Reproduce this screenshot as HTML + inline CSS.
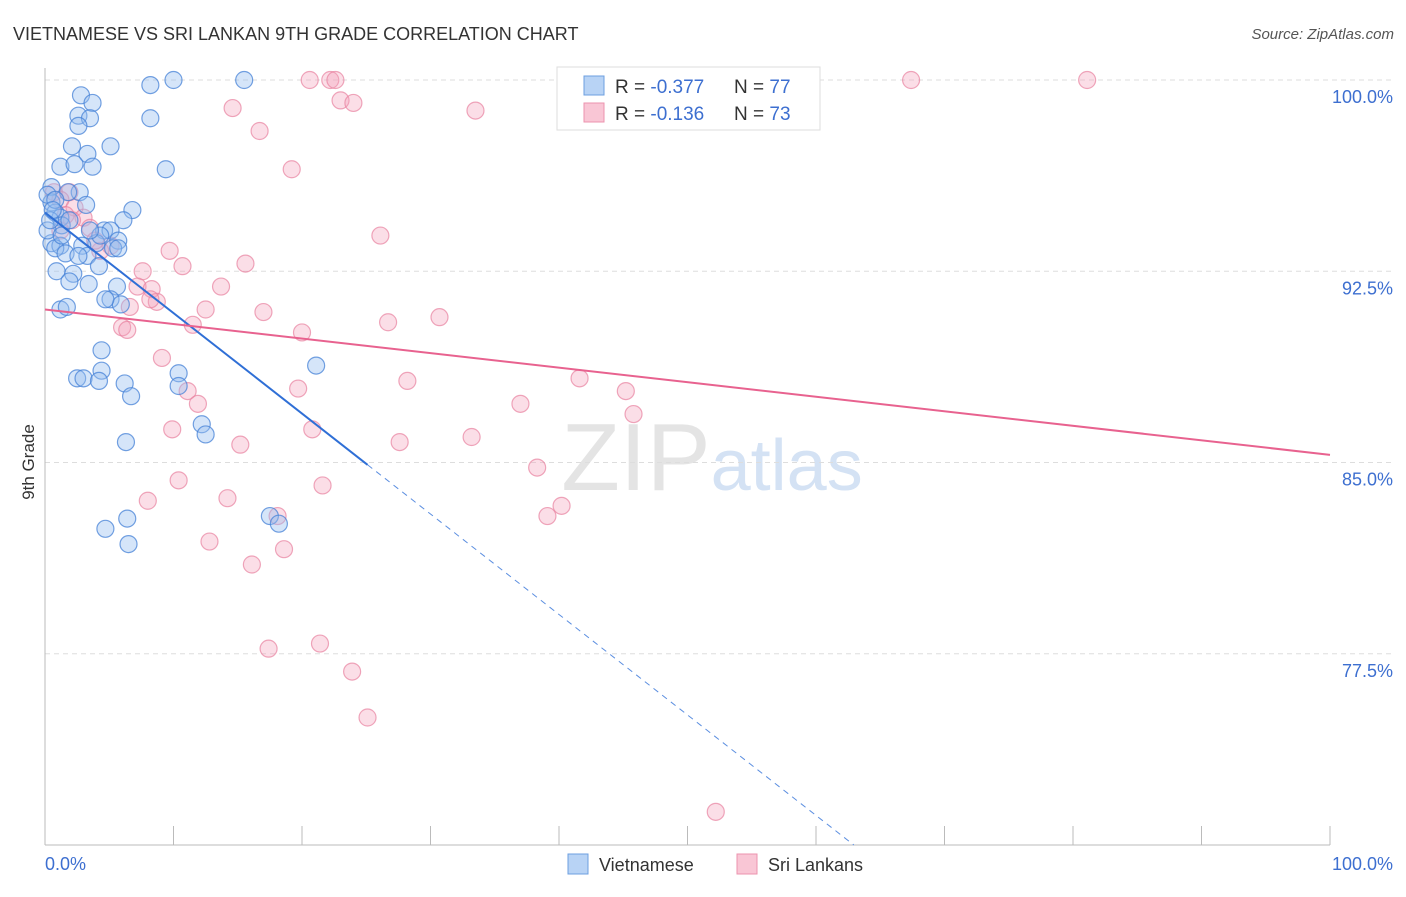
<!DOCTYPE html>
<html><head><meta charset="utf-8"><style>
body{margin:0;background:#fff;font-family:"Liberation Sans",sans-serif;}
svg text{font-family:"Liberation Sans",sans-serif;}
</style></head><body>
<svg id="chart" width="1406" height="892" xmlns="http://www.w3.org/2000/svg">
<text x="13" y="40" font-size="18" fill="#333">VIETNAMESE VS SRI LANKAN 9TH GRADE CORRELATION CHART</text>
<text x="1394" y="39" font-size="15" fill="#555" text-anchor="end" font-style="italic">Source: ZipAtlas.com</text>
<text x="712" y="490" font-size="96" fill="#e4e4e4" text-anchor="middle" font-family="Liberation Serif">ZIP<tspan fill="#d4e2f4" font-family="Liberation Sans" font-size="72">atlas</tspan></text>
<g id="grid"></g>
<g id="axes"></g>
<g id="pts"></g>
<g id="trend"></g>
<text transform="translate(34,462) rotate(-90)" font-size="17" fill="#333" text-anchor="middle">9th Grade</text>
<g>
<rect x="557" y="67" width="263" height="63" fill="#fff" stroke="#ddd"/>
<rect x="584" y="76" width="20" height="19" fill="#b8d3f5" stroke="#6c9fe0"/>
<rect x="584" y="103" width="20" height="19" fill="#f9c6d5" stroke="#ec93ae"/>
<text x="615" y="93" font-size="19" fill="#333">R = <tspan fill="#3d6fd0">-0.377</tspan></text>
<text x="734" y="93" font-size="19" fill="#333">N = <tspan fill="#3d6fd0">77</tspan></text>
<text x="615" y="120" font-size="19" fill="#333">R = <tspan fill="#3d6fd0"> -0.136</tspan></text>
<text x="734" y="120" font-size="19" fill="#333">N = <tspan fill="#3d6fd0">73</tspan></text>
</g>
<g>
<rect x="568" y="854" width="20" height="20" fill="#b8d3f5" stroke="#6c9fe0"/>
<text x="599" y="871" font-size="18" fill="#333">Vietnamese</text>
<rect x="737" y="854" width="20" height="20" fill="#f9c6d5" stroke="#ec93ae"/>
<text x="768" y="871" font-size="18" fill="#333">Sri Lankans</text>
</g>
</svg>
<script>
const yTicks=[100,92.5,85,77.5];
const yTickLabels=["100.0%","92.5%","85.0%","77.5%"];
const xTicks=[0,10,20,30,40,50,60,70,80,90,100];
const viX=[8.2,10,15.5,2.8,3.7,2.6,3.5,8.2,2.6,5.1,2.1,3.3,1.2,2.3,3.7,9.4,0.5,2.7,1.8,3.2,6.8,0.5,0.8,1.2,6.1,1.3,4.6,5.1,0.5,1.2,5.7,4.0,2.9,0.8,1.6,5.3,3.3,4.2,0.9,2.2,1.9,3.4,5.6,5.1,5.9,1.2,1.7,10.4,21.1,4.4,4.4,2.5,3.0,4.2,6.2,6.7,10.4,12.2,12.5,6.3,17.5,18.2,6.4,4.7,6.5,0.2,0.4,0.2,0.8,1.3,1.9,4.3,5.7,4.7,2.6,3.5,0.6];
const viY=[99.8,100,100,99.4,99.1,98.6,98.5,98.5,98.2,97.4,97.4,97.1,96.6,96.7,96.6,96.5,95.8,95.6,95.6,95.1,94.9,95.2,94.8,94.6,94.5,94.3,94.1,94.1,93.6,93.5,93.7,93.6,93.5,93.4,93.2,93.4,93.1,92.7,92.5,92.4,92.1,92.0,91.9,91.4,91.2,91.0,91.1,88.5,88.8,89.4,88.6,88.3,88.3,88.2,88.1,87.6,88.0,86.5,86.1,85.8,82.9,82.6,82.8,82.4,81.8,94.1,94.5,95.5,95.3,93.9,94.5,93.9,93.4,91.4,93.1,94.1,94.9];
const slX=[20.6,22.2,22.6,67.4,81.1,23.0,24.0,14.6,33.5,16.7,19.2,0.7,1.9,1.2,2.3,3.0,1.6,3.5,2.1,26.1,5.1,4.3,9.7,15.6,10.7,7.6,13.7,7.2,8.3,8.7,12.5,6.6,17.0,11.5,6.0,6.4,20.0,26.7,30.7,9.1,41.6,28.2,19.7,11.1,45.2,11.9,37.0,45.8,9.9,20.8,15.2,27.6,33.2,38.3,10.4,21.6,8.0,14.2,40.2,39.1,18.1,12.8,18.6,16.1,21.4,17.4,23.9,25.1,52.2,8.2,3.9,1.2];
const slY=[100,100,100,100,100,99.2,99.1,98.9,98.8,98.0,96.5,95.6,95.6,95.3,95.0,94.6,94.7,94.2,94.5,93.9,93.5,93.3,93.3,92.8,92.7,92.5,91.9,91.9,91.8,91.3,91.0,91.1,90.9,90.4,90.3,90.2,90.1,90.5,90.7,89.1,88.3,88.2,87.9,87.8,87.8,87.3,87.3,86.9,86.3,86.3,85.7,85.8,86.0,84.8,84.3,84.1,83.5,83.6,83.3,82.9,82.9,81.9,81.6,81.0,77.9,77.7,76.8,75.0,71.3,91.4,93.7,94.1];
const viTrend=[94.8,-0.394,25.1];
const slTrend=[91.0,-0.057];
const NS="http://www.w3.org/2000/svg";
const X=v=>45+v*12.85, Y=v=>80+(100-v)*25.5;
function mk(t,a,p){const e=document.createElementNS(NS,t);for(const k in a)e.setAttribute(k,a[k]);p.appendChild(e);return e;}
const grid=document.getElementById('grid'),axes=document.getElementById('axes');
yTicks.forEach((t,i)=>{
 const g=mk('line',{x1:45,x2:1393,y1:Y(t),y2:Y(t),stroke:'#ddd','stroke-dasharray':'5,4'},grid);
 
 
 const l=mk('text',{x:1393,y:Y(t)+23,'font-size':18,fill:'#3d6fd0','text-anchor':'end'},axes);
 l.textContent=yTickLabels[i];
 
 
});
mk('line',{x1:45,x2:45,y1:68,y2:845,stroke:'#bbb'},axes);
mk('line',{x1:45,x2:1330,y1:845,y2:845,stroke:'#bbb'},axes);
xTicks.forEach(t=>{const e=mk('line',{x1:X(t),x2:X(t),y1:826,y2:845,stroke:'#bbb'},axes);
 
 });
const x0=mk('text',{x:45,y:870,'font-size':18,fill:'#3d6fd0'},axes);x0.textContent='0.0%';
const x1=mk('text',{x:1393,y:870,'font-size':18,fill:'#3d6fd0','text-anchor':'end'},axes);x1.textContent='100.0%';
const pts=document.getElementById('pts');
slX.forEach((v,i)=>{const c=mk('circle',{cx:X(v),cy:Y(slY[i]),r:8.5,fill:'rgba(244,160,186,0.35)',stroke:'rgba(232,130,160,0.7)','stroke-width':1.2},pts);
 
 });
viX.forEach((v,i)=>{const c=mk('circle',{cx:X(v),cy:Y(viY[i]),r:8.5,fill:'rgba(150,190,240,0.4)',stroke:'rgba(70,130,215,0.75)','stroke-width':1.2},pts);
 
 });
const tr=document.getElementById('trend');
const vy=x=>viTrend[0]+viTrend[1]*x;
const xEnd=(70-viTrend[0])/viTrend[1];
const a=mk('line',{x1:X(0),y1:Y(vy(0)),x2:X(viTrend[2]),y2:Y(vy(viTrend[2])),stroke:'#2f6fd6','stroke-width':2},tr);


const b=mk('line',{x1:X(viTrend[2]),y1:Y(vy(viTrend[2])),x2:X(xEnd),y2:Y(70),stroke:'#5b8ee0','stroke-width':1,'stroke-dasharray':'6,5'},tr);


const s=mk('line',{x1:X(0),y1:Y(slTrend[0]),x2:X(100),y2:Y(slTrend[0]+slTrend[1]*100),stroke:'#e8628f','stroke-width':2},tr);


</script>
</body></html>
